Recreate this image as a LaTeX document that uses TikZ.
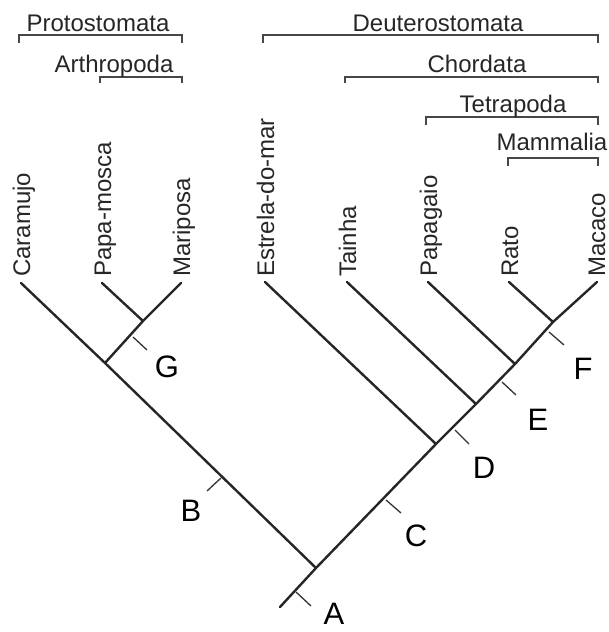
\documentclass[tikz,border=0pt]{standalone}
\usepackage{fontspec}
\setmainfont{Liberation Sans}
\begin{document}
\begin{tikzpicture}[x=1pt,y=-1pt,
  branch/.style={draw=black!85, line width=2.4pt, line cap=round},
  tickmark/.style={draw=black!80, line width=1.3pt},
  bracketline/.style={draw=black!72, line width=2pt},
  taxon/.style={rotate=90, anchor=base west, inner sep=0pt, font=\fontsize{24}{28}\selectfont, text=black!85},
  clade/.style={anchor=base, inner sep=0pt, font=\fontsize{24}{28}\selectfont, text=black!85},
  letter/.style={anchor=center, inner sep=0pt, font=\fontsize{31}{36}\selectfont, text=black}]
\useasboundingbox (0,0) rectangle (609,632);
% internal points
\coordinate (root) at (280,607);
\coordinate (nA) at (316,568);
\coordinate (nB) at (105,363);
\coordinate (nG) at (143,321);
\coordinate (nD) at (436,444);
\coordinate (nE) at (476,404);
\coordinate (nT) at (515,364);
\coordinate (nF) at (553,322);
% tips
\coordinate (caramujo) at (21,283);
\coordinate (papamosca) at (102,283);
\coordinate (mariposa) at (181,283);
\coordinate (estrela) at (265,282);
\coordinate (tainha) at (347,282);
\coordinate (papagaio) at (428,282);
\coordinate (rato) at (509,282);
\coordinate (macaco) at (597,282);
% tree
\draw[branch] (root) -- (nA) -- (nD) -- (nE) -- (nT) -- (nF) -- (macaco);
\draw[branch] (nA) -- (nB) -- (caramujo);
\draw[branch] (nB) -- (nG) -- (mariposa);
\draw[branch] (nG) -- (papamosca);
\draw[branch] (nD) -- (estrela);
\draw[branch] (nE) -- (tainha);
\draw[branch] (nT) -- (papagaio);
\draw[branch] (nF) -- (rato);
% ticks
\coordinate (tA) at (296,592); \coordinate (tA2) at (311,606);
\coordinate (tB) at (221,478); \coordinate (tB2) at (207,491);
\coordinate (tC) at (386,500); \coordinate (tC2) at (401,513);
\coordinate (tD) at (455,430); \coordinate (tD2) at (469,444);
\coordinate (tE) at (502,382); \coordinate (tE2) at (516,395);
\coordinate (tF) at (549,332); \coordinate (tF2) at (564,345);
\coordinate (tG) at (133,337); \coordinate (tG2) at (147,350);
\foreach \t in {A,B,C,D,E,F,G} \draw[tickmark] (t\t) -- (t\t2);
% letters
\node[letter] (lA) at (334,614) {A};
\node[letter] (lB) at (191,511) {B};
\node[letter] (lC) at (416,536) {C};
\node[letter] (lD) at (484,468) {D};
\node[letter] (lE) at (538,420) {E};
\node[letter] (lF) at (583,369) {F};
\node[letter] (lG) at (167,367) {G};
% taxa
\node[taxon] (xCaramujo) at (30,277) {Caramujo};
\node[taxon] (xPapa) at (111,277) {Papa-mosca};
\node[taxon] (xMari) at (190,277) {Mariposa};
\node[taxon] (xEstrela) at (274,277) {Estrela-do-mar};
\node[taxon] (xTainha) at (356,277) {Tainha};
\node[taxon] (xPapagaio) at (437,277) {Papagaio};
\node[taxon] (xRato) at (518,277) {Rato};
\node[taxon] (xMacaco) at (605,277) {Macaco};
% brackets
\draw[bracketline] (19,43) -- (19,35) -- (182,35) -- (182,43);
\node[clade] (cProto) at (98,31) {Protostomata};
\draw[bracketline] (100,83) -- (100,77) -- (182,77) -- (182,83);
\node[clade] (cArthro) at (114,72) {Arthropoda};
\draw[bracketline] (263,43) -- (263,35) -- (598,35) -- (598,43);
\node[clade] (cDeut) at (438,31) {Deuterostomata};
\draw[bracketline] (345,83) -- (345,77) -- (598,77) -- (598,83);
\node[clade] (cChord) at (477,72) {Chordata};
\draw[bracketline] (426,125) -- (426,117) -- (598,117) -- (598,125);
\node[clade] (cTetra) at (513,112) {Tetrapoda};
\draw[bracketline] (508,166) -- (508,158) -- (598,158) -- (598,166);
\node[clade] (cMamm) at (552,150) {Mammalia};
\end{tikzpicture}
\end{document}
